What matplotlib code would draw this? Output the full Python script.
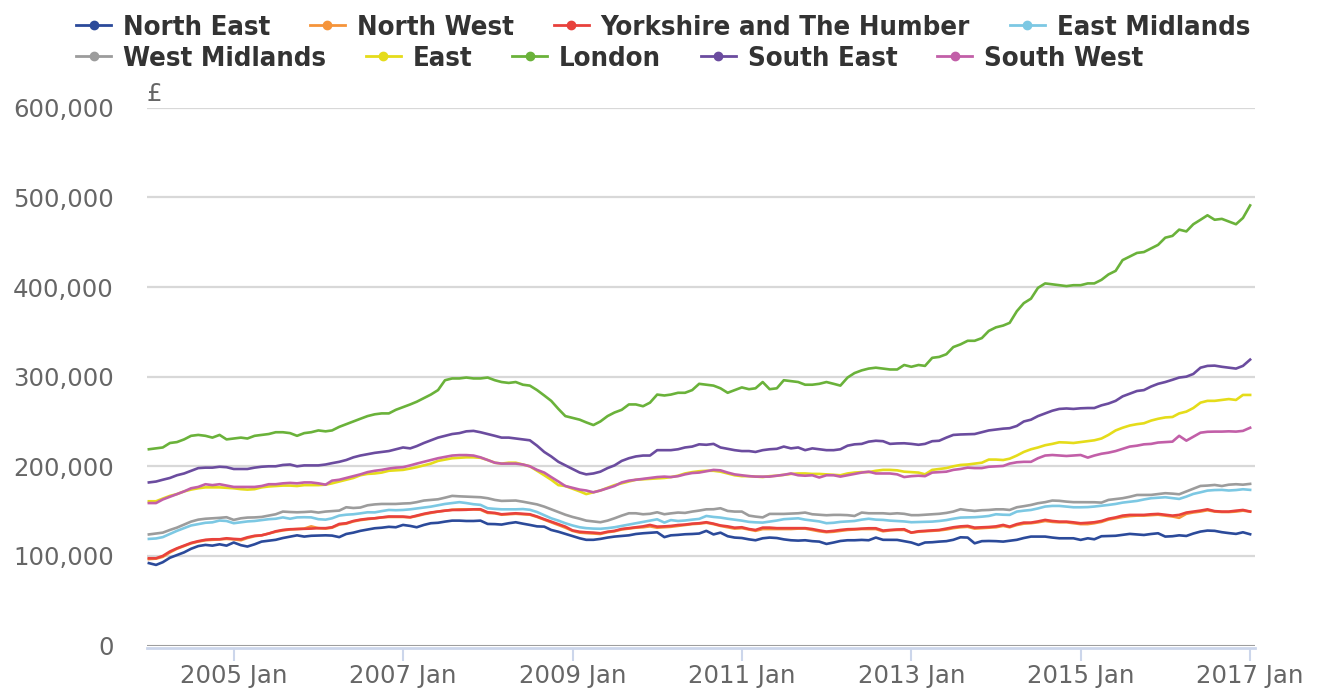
import matplotlib
matplotlib.use("Agg")
import matplotlib.pyplot as plt
from matplotlib.lines import Line2D
from matplotlib.font_manager import FontProperties
from matplotlib.ticker import FuncFormatter
import pandas as pd

# average house price by region, monthly, in thousands of pounds (Jan 2004 - Jan 2017)
regions = ["North East", "North West", "Yorkshire and The Humber", "East Midlands",
           "West Midlands", "East", "London", "South East", "South West"]
colors = ["#2b4a9a", "#f5943a", "#e8413c", "#7cc8e3", "#9c9c9c",
          "#e5dc1a", "#6ab23a", "#6b4c9f", "#c25fa8"]

north_east = [
    92, 90, 93, 98, 101, 104, 108, 111, 112.3, 111.5, 113, 111.5, 115, 112, 110.5, 113, 116, 117, 118, 120,
    121.5, 123, 121.6, 122.5, 122.7, 123, 122.7, 121, 124.5, 126, 128, 129.5, 130.9, 131.5, 132.5, 132, 134.6, 133.5, 132, 134.6,
    136.5, 137, 138.3, 139.4, 139.4, 139, 139, 139.4, 135.7, 135.5, 135, 136.5, 137.6,
    136, 134.6, 133, 132.7, 129, 127, 124.6, 122, 119.7, 118, 118, 119, 120.5, 121.6, 122.3, 123, 124.5, 125.3, 125.8, 126.4,
    121, 123, 123.5, 124.2, 124.5, 125, 128, 124, 126, 122, 120.5, 120, 118.5, 117.5, 119.7, 120.5, 120, 118.5, 117.5, 117.1,
    117.5, 116.5, 116, 113.4, 115, 116.7, 117.5, 117.5, 117.9, 117.5, 120.5, 118,
    117.9, 117.9, 116.5, 115, 112.3, 115, 115.3, 116, 116.5, 118, 120.8, 120.5, 114.1, 116.5, 116.7, 116.5, 116, 117, 118, 120,
    121.6, 121.6, 121.6, 120.5, 119.7, 119.7, 119.7, 117.9, 119.7, 118.6, 122, 122.3, 122.5, 123.5, 124.6, 124, 123.4, 124.5, 125.3, 121.6,
    122, 123, 122.3, 125, 127.2, 128.3, 128, 126.5, 125.5, 124.6, 126.4, 124.2,
]
north_west = [
    96.5, 97, 99, 104, 108, 111, 114, 116, 117.5, 118, 118.5, 119, 118.5, 117.5, 120, 122, 123, 125, 127, 128.5,
    129.5, 130, 130.5, 133, 131, 130.5, 131.5, 135, 136, 138.5, 140, 141, 142, 143, 143.5, 143.5, 143.5, 143, 144.5, 146.5,
    148, 149.5, 150.5, 151.5, 152, 152, 152, 151.5, 148, 147.5, 146, 146.5, 147,
    146.5, 146, 143.5, 140.5, 137.5, 134.5, 131.5, 128, 126, 125.5, 125, 124.5, 126.5, 127.5, 129.5, 130.5, 131.5, 132, 133, 131.5,
    132, 132.5, 133.5, 134.5, 135.5, 136, 137, 135.5, 133.5, 132, 130.5, 131, 129.5, 128, 130, 130, 130, 130, 130, 130.5,
    130.5, 129, 127.5, 126.5, 127, 128, 129, 129.5, 130, 130, 130, 127.5,
    128.5, 129, 129, 126, 127, 127.5, 128, 128.5, 129.5, 131, 132, 132.5, 130.5, 131, 131.5, 132, 133.5, 132, 134.5, 136,
    136.5, 137.5, 139, 138, 137.5, 137.5, 136.5, 135.5, 135.5, 136.5, 138, 140.5, 142, 143.5, 144.5, 145, 145, 145.5, 146, 145,
    144, 142.5, 147, 148.5, 149.5, 151, 149.5, 149, 149, 149.5, 150.5, 149.5,
]
yorkshire = [
    97.4, 97.4, 100, 105, 108.5, 111.5, 114.5, 116.5, 118, 118.6, 118.6, 119.7, 119, 118.6, 120.8, 122.5, 123, 125, 127.5, 129,
    129.8, 130, 130.2, 130.5, 131, 131, 132, 135.7, 136.5, 139, 140.5, 141.5, 142, 143, 144, 143.9, 143.9, 143.2, 145, 147,
    148.5, 149.5, 150.5, 151.3, 151.3, 151.5, 152, 152.1, 148.7, 148, 146.5, 147, 147.6,
    147, 146.5, 144, 141, 138.3, 135.5, 132.7, 128.5, 127, 126.4, 126, 125.3, 127, 128, 130.1, 131, 132, 133, 134.6, 132.7,
    133, 133.5, 134.5, 135, 136, 136.5, 137.6, 136, 134, 133, 131.5, 132, 130, 129, 131.6, 131.6, 131, 131, 130.9, 130.9,
    131, 130, 128.5, 127.2, 128, 129, 129.8, 130, 130.5, 130.9, 130.9, 128.3,
    129, 129.5, 129.8, 126, 127.5, 128, 128.5, 129, 130.5, 132, 133, 133.5, 131.6, 132, 132.3, 133, 134.6, 132.7, 135.5, 137.2,
    137.2, 138.5, 140.2, 139, 138.3, 138.3, 137.5, 136.5, 137, 137.6, 139, 141.5, 143, 145, 145.8, 145.8, 145.8, 146.5, 146.9, 146,
    145, 145.8, 148.4, 149.5, 150.6, 152, 150, 149.5, 149.5, 150.5, 151.3, 149.5,
]
east_midlands = [
    119, 119.5, 121, 124.5, 128, 131, 134, 135.5, 137, 137.5, 139.5, 139, 136.5, 137.5, 138.5, 139, 140, 141, 141.5, 143,
    141.5, 143, 143.2, 143, 141, 140.5, 142, 145, 146, 146.5, 147.5, 148.7, 148.6, 150, 151.3, 151, 151.3, 152, 153, 154,
    155, 156.5, 158, 159, 160, 159, 157.7, 157, 153.2, 152.5, 152, 152, 152,
    152.3, 151.5, 149, 145.5, 142, 139.4, 136.5, 134, 132, 131, 130.5, 130.3, 131, 132, 133.5, 135, 136.5, 138, 139.5, 140.9,
    137.2, 140, 139, 139.5, 140.5, 141.3, 144.6, 143.5, 142.8, 141.5, 140.5, 139.4, 138, 137.5, 137.2, 138.3, 139.5, 141, 141.5, 142,
    140.5, 139.5, 138.5, 136.5, 137, 138, 138.5, 139, 140.5, 141.5, 140.5, 140.2,
    139.4, 139, 138.5, 137.6, 137.8, 138, 138.3, 139, 140, 141.5, 142.8, 143, 143.2, 143.8, 144.6, 146.5, 146, 145.8, 149.5, 150.5,
    151.3, 153, 155.1, 155.8, 155.8, 155, 154.3, 154.3, 154.5, 155.1, 156, 156.9, 158, 159.5, 160.5, 161.4, 163, 164.4, 165, 165.5,
    164.5, 163.6, 166.2, 169.2, 171, 172.9, 173.5, 173.7, 173, 173.5, 174.4, 173.7,
]
west_midlands = [
    124, 125, 126, 129, 131.6, 135, 138.3, 140.5, 141.5, 142, 142.5, 143.2, 140.2, 142, 142.8, 143, 143.5, 145, 146.5, 149.5,
    149, 148.7, 149, 149.5, 148.4, 149.5, 150, 150.6, 154.3, 153.5, 154, 156.5, 157.5, 158, 158, 158, 158.5, 158.8, 160, 161.8,
    162.5, 163.2, 165, 167, 166.5, 166.2, 165.8, 165.5, 164.4, 162.5, 161.4, 161.6, 161.8,
    160.5, 159, 157.5, 155, 152, 149, 146, 143.5, 141.5, 139.4, 138.5, 137.6, 139.4, 142, 145, 147.6, 147.6, 146.5, 147, 148.7,
    146.5, 147.5, 148.4, 148, 149.5, 150.6, 152, 152.1, 153.2, 150.2, 149.5, 149.5, 145, 143.9, 143, 146.9, 146.9, 146.9, 147.2, 147.6,
    148.4, 146.5, 146, 145.4, 145.8, 145.8, 145.5, 144.6, 148.4, 147.6, 147.6, 147.6,
    147, 147.6, 147, 145.5, 145.5, 146, 146.5, 147, 148, 149.5, 152.1, 151, 150.2, 151, 151.3, 152, 152, 151.3, 154.3, 155.5,
    156.9, 158.8, 160, 161.8, 161.5, 160.6, 160, 160, 159.9, 159.9, 159.5, 162.5, 163.5, 164.4, 166, 168, 168.1, 168.1, 169, 170,
    169.5, 168.8, 172, 175, 178.1, 178.5, 179.2, 178, 179.5, 180, 179.5, 180.4,
]
east = [
    161, 161, 164, 167, 169, 172, 174, 175.5, 176.5, 176.5, 176.5, 176, 175.5, 174.5, 174, 174.5, 176.5, 177.5, 178, 178.5,
    178.5, 178, 179, 179, 179, 179.5, 181, 183, 185, 187, 190, 191.5, 192, 193, 195, 195.5, 196, 197.5, 199, 201,
    203, 206, 207.5, 209, 209.5, 210, 210, 209.5, 207, 204, 203, 204, 204,
    202, 200, 195, 190, 185, 179, 178, 175, 172, 169, 171, 173, 176, 179, 181, 183, 185, 185.5, 186, 186.5,
    187, 188, 189.5, 192, 193.5, 194.5, 195, 195, 194, 192, 190, 189, 189, 188.5, 188, 189, 189.5, 190.5, 191.5, 192,
    192, 191.5, 191.5, 191, 190.5, 190, 192, 193, 193.5, 193.5, 195,
    196, 196, 195.5, 194, 193.5, 193, 191, 196, 197, 198, 200, 201.5, 202, 203, 204, 207.5, 207.5, 207, 208.5, 212,
    216, 219, 221, 223.5, 225, 226.8, 226.5, 226, 227, 228, 229, 231, 235, 240, 243, 245.5, 247, 248, 251, 253,
    254.5, 255, 259, 261, 265, 271, 273, 273, 274, 275, 274, 279.6, 279.6,
]
london = [
    219, 220, 221, 226, 227, 230, 234, 235, 234, 232, 235, 230, 231, 232, 231, 234, 235, 236, 238, 238,
    237, 234, 237, 238, 240, 239, 240, 244, 247, 250, 253, 256, 258, 259, 259, 263, 266, 269, 272, 276,
    280, 285, 296, 298, 298, 299, 298, 298, 299, 296, 294, 293, 294,
    291, 290, 285, 279, 273, 264, 256, 254, 252, 249, 246, 250, 256, 260, 263, 269, 269, 267, 271, 280,
    279, 280, 282, 282, 285, 292, 291, 290, 287, 282, 285, 288, 286, 287, 294, 286, 287, 296, 295, 294,
    291, 291, 292, 294, 292, 290, 299, 304, 307, 309, 310,
    309, 308, 308, 313, 311, 313, 312, 321, 322, 325, 333, 336, 340, 340, 343, 351, 355, 357, 360, 373,
    382, 387, 399, 404, 403, 402, 401, 402, 402, 404, 404, 408, 414, 418, 430, 434, 438, 439, 443, 447,
    455, 457, 464, 462, 470, 475, 480, 475, 476, 473, 470, 477, 491,
]
south_east = [
    182, 183, 185, 187, 190, 192, 195, 198, 198.5, 198.5, 199.5, 199, 197, 197, 197, 198.5, 199.5, 200, 200, 201.5,
    202, 200, 201, 201, 201, 202, 203.5, 205, 207, 210, 212, 213.5, 215, 216, 217, 219, 221, 220, 222.5, 226,
    229, 232, 234, 236, 237, 239, 239.5, 238, 236, 234, 232, 232, 231,
    230, 229, 223, 216, 211, 205, 201, 197, 193, 191, 192, 194, 198, 201, 206, 209, 211, 212, 212, 218,
    218, 218, 219, 221, 222, 224.5, 224, 225, 221, 219.5, 218, 217, 217, 216, 218, 219, 219.5, 222, 220, 221,
    218, 220, 219, 218, 218, 219, 223, 224.5, 225, 227.5, 228.5,
    228, 225, 225.5, 225.7, 225, 224, 225, 228, 228.5, 232, 235, 235.5, 235.7, 236, 238, 240, 241, 242, 242.5, 245,
    250, 252, 256, 259, 262, 264, 264.5, 264, 264.7, 265, 265, 268, 270, 273, 278, 281, 284, 285, 289, 292,
    294, 296.5, 299, 300, 303, 310, 312, 312.3, 311, 310, 309, 312, 319,
]
south_west = [
    159, 159, 163, 166, 169, 172, 175.5, 177, 180, 179, 180, 178.5, 177, 177, 177, 177, 178, 180, 180, 181,
    181.5, 181, 182, 182, 181, 179.5, 184, 185, 187, 189, 191, 193.5, 195, 196, 197.5, 198.5, 199, 201, 203, 205,
    207, 209, 210.5, 212, 212.5, 212.5, 212, 210, 207, 204, 203, 203, 203,
    202, 200, 196, 193, 188, 183, 178, 176, 174, 173, 171, 173, 175.5, 178, 182, 184, 185, 186, 187, 188,
    188.5, 188, 189, 191, 192.5, 193, 194.5, 196, 195.5, 193, 191, 190, 189, 188.5, 188.5, 188.5, 189.5, 190.5, 192, 190,
    189.5, 190, 187.5, 190, 190, 188.5, 190, 191.5, 193, 194, 192,
    192, 192, 191, 188, 189, 189.5, 189, 193, 193.5, 194, 196, 197, 198.5, 198, 198, 199.5, 200, 200.4, 203, 204.5,
    205, 205, 209, 212, 212.6, 212, 211.5, 212, 212.6, 209.7, 212, 214, 215.2, 217, 219.5, 222, 223, 224.5, 225, 226.5,
    227, 227.5, 234, 228.6, 233, 237.5, 238.5, 238.7, 238.7, 239, 238.7, 239.5, 243,
]

series = [north_east, north_west, yorkshire, east_midlands, west_midlands,
          east, london, south_east, south_west]

tick_years = [2005, 2007, 2009, 2011, 2013, 2015, 2017]
y_ticks = [0, 100, 200, 300, 400, 500, 600]

W, H = 1320, 693
fig = plt.figure(figsize=(W / 100, H / 100), dpi=100)
ax = fig.add_axes([147 / W, 1 - 645.6 / H, (1255 - 147) / W, (645.6 - 107.7) / H])

for name, vals, c in zip(regions, series, colors):
    dates = pd.date_range("2004-01-01", periods=len(vals), freq="MS")
    ax.plot(dates, vals, color=c, lw=1.9, solid_joinstyle="round", zorder=3)

ax.set_xlim(pd.Timestamp("2003-12-24"), pd.Timestamp("2017-01-22"))
ax.set_ylim(0, 600)
ax.set_yticks(y_ticks)
ax.yaxis.set_major_formatter(FuncFormatter(lambda v, p: f"{int(v * 1000):,}"))
ax.set_xticks([pd.Timestamp(f"{y}-01-01") for y in tick_years])
ax.set_xticklabels([f"{y} Jan" for y in tick_years])

ax.grid(axis="y", color="#d8d8d8", lw=1.6, zorder=1)
ax.grid(axis="x", visible=False)
for s in ["top", "right", "left"]:
    ax.spines[s].set_visible(False)
ax.spines["bottom"].set_color("#ccd6eb")
ax.spines["bottom"].set_linewidth(2)
ax.spines["bottom"].set_position(("outward", 1.5))
ax.axhline(0, color="#8c8c8c", lw=1.8, zorder=2)

ax.tick_params(axis="y", length=0, pad=24, labelsize=17.6, labelcolor="#666666")
ax.tick_params(axis="x", length=9, width=1.5, color="#ccd6eb", pad=3,
               labelsize=17.6, labelcolor="#666666")

ax.text(0, 1.003, "£", transform=ax.transAxes, ha="left", va="bottom",
        fontsize=17.6, color="#666666")

# legend laid out in two rows like the original
handles = [Line2D([], [], color=c, lw=2, marker="o", ms=6) for c in colors]
lprop = FontProperties(family="DejaVu Sans", weight="bold", stretch="condensed", size=19.7)
rows = [(0, 4, 15), (4, 9, 46)]
for a, b, top in rows:
    fig.legend(handles[a:b], regions[a:b], loc="upper left",
               bbox_to_anchor=(76 / W, 1 - top / H), ncol=b - a, frameon=False,
               prop=lprop, labelcolor="#333333", handlelength=1.28,
               handletextpad=0.44, columnspacing=1.45, borderpad=0, borderaxespad=0)

fig.savefig("out.png", dpi=100)
